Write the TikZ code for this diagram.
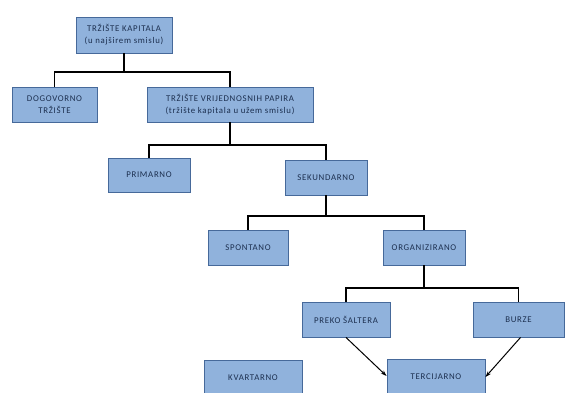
\documentclass[tikz,border=0pt]{standalone}
\usepackage{fontspec}
\setmainfont{Carlito}[LetterSpace=8]
\usetikzlibrary{arrows.meta}
\definecolor{boxfill}{HTML}{90B2DC}
\definecolor{boxline}{HTML}{46699A}
\definecolor{boxtext}{HTML}{1C2F4F}
\begin{document}
\begin{tikzpicture}[x=1pt, y=-1pt,
        box/.style={draw=boxline, fill=boxfill, line width=0.9pt, text=boxtext,
            font=\fontsize{8.8}{12}\selectfont, align=center, inner sep=1pt,
            minimum height=35pt},
        link/.style={draw=black, line width=1.1pt},
        pointer/.style={draw=black, line width=1pt, -{Stealth[length=6pt, width=4pt]}}]
        \useasboundingbox (0, 0) rectangle (565, 392);
        \fill[white] (0, 0) rectangle (565, 392);
        % the boxes
        \node[box, minimum width=96pt, minimum height=36pt] (kapital) at (124, 35) {TRŽIŠTE KAPITALA\\(u najširem smislu)};
        \node[box, minimum width=85pt] (dogovor) at (54.5, 104.5) {DOGOVORNO\\TRŽIŠTE};
        \node[box, minimum width=166pt] (papiri) at (230, 104.5) {TRŽIŠTE VRIJEDNOSNIH PAPIRA\\(tržište kapitala u užem smislu)};
        \node[box, minimum width=82pt, minimum height=34pt] (primar) at (149, 175) {PRIMARNO};
        \node[box, minimum width=82pt] (sekundar) at (326, 177.5) {SEKUNDARNO};
        \node[box, minimum width=80pt] (spontan) at (248, 247.5) {SPONTANO};
        \node[box, minimum width=82pt] (organiz) at (424, 247.5) {ORGANIZIRANO};
        \node[box, minimum width=88pt] (salter) at (346, 319.5) {PREKO ŠALTERA};
        \node[box, minimum width=91pt] (burze) at (518.5, 319.5) {BURZE};
        \node[box, minimum width=98pt] (kvartar) at (253, 377.5) {KVARTARNO};
        \node[box, minimum width=98pt] (tercijar) at (436, 376.5) {TERCIJARNO};
        % the tree lines
        \coordinate (bar1) at (0, 72);
        \coordinate (bar2) at (0, 145);
        \coordinate (bar3) at (0, 216);
        \coordinate (bar4) at (0, 288);
        \draw[link] (kapital.south) -- (kapital.south |- bar1);
        \draw[link] (dogovor.north) |- (papiri.north |- bar1) -- (papiri.north);
        \draw[link] (papiri.south) -- (papiri.south |- bar2);
        \draw[link] (primar.north) |- (sekundar.north |- bar2) -- (sekundar.north);
        \draw[link] (sekundar.south) -- (sekundar.south |- bar3);
        \draw[link] (spontan.north) |- (organiz.north |- bar3) -- (organiz.north);
        \draw[link] (organiz.south) -- (organiz.south |- bar4);
        \draw[link] (salter.north) |- (burze.north |- bar4) -- (burze.north);
        % the arrows
        \draw[pointer] (salter.south) -- ([yshift=0.5pt]tercijar.west);
        \draw[pointer] ([xshift=2pt]burze.south) -- ([yshift=-0.5pt]tercijar.east);
    \end{tikzpicture}
\end{document}
